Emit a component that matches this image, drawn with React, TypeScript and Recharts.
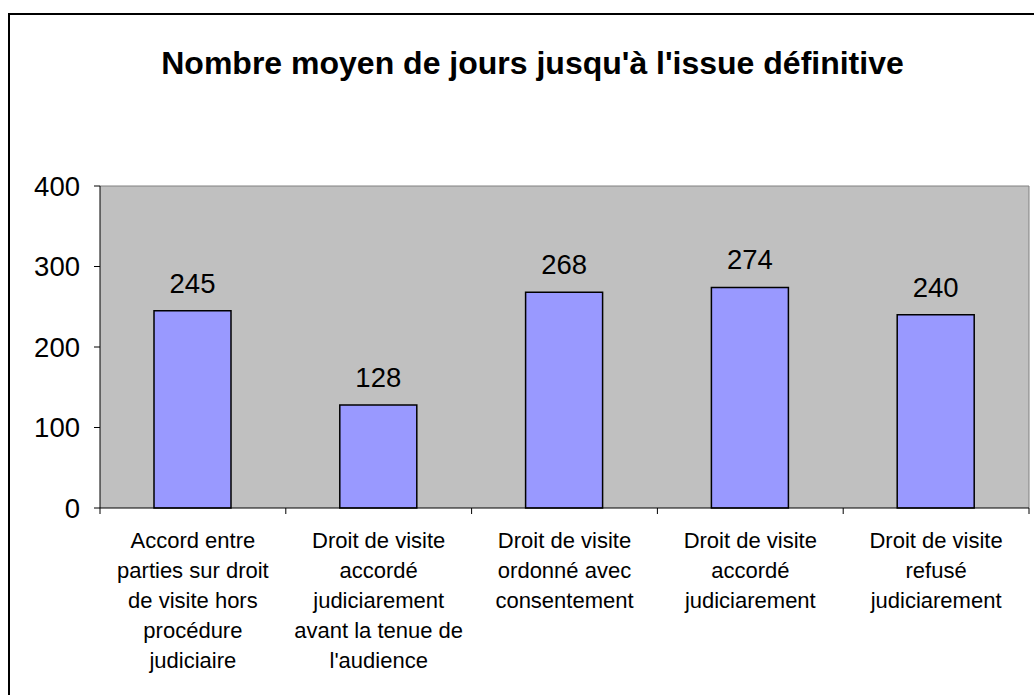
import React from "react";
import { BarChart, Bar, XAxis, YAxis, CartesianGrid, LabelList } from "recharts";

const titleText = "Nombre moyen de jours jusqu'à l'issue définitive";
const categoryLines: string[][] = [
  ["Accord entre", "parties sur droit", "de visite hors", "procédure", "judiciaire"],
  ["Droit de visite", "accordé", "judiciarement", "avant la tenue de", "l'audience"],
  ["Droit de visite", "ordonné avec", "consentement"],
  ["Droit de visite", "accordé", "judiciarement"],
  ["Droit de visite", "refusé", "judiciarement"],
];
const categories = categoryLines.map((l) => l.join(" "));
const values = [245, 128, 268, 274, 240];
const yTicks = [0, 100, 200, 300, 400];

const data = categories.map((c, i) => ({ name: c, value: values[i] }));

const FONT = "'Liberation Sans', Arial, sans-serif";

const CategoryTick = (props: any) => {
  const { x, y, payload, index, width, visibleTicksCount } = props;
  const count = visibleTicksCount || categories.length;
  const half = payload && payload.offset ? payload.offset : width / count / 2;
  const lines = categoryLines[index] || [String(payload.value)];
  return (
    <g>
      <line x1={x - half} y1={y} x2={x - half} y2={y + 6} stroke="#000" strokeWidth={1} />
      {index === count - 1 && (
        <line x1={x + half} y1={y} x2={x + half} y2={y + 6} stroke="#000" strokeWidth={1} />
      )}
      <text x={x} y={y + 39.7} textAnchor="middle" fontSize={22} fontFamily={FONT} fill="#000">
        {lines.map((ln, i) => (
          <tspan key={i} x={x} dy={i === 0 ? 0 : 30}>
            {ln}
          </tspan>
        ))}
      </text>
    </g>
  );
};

export default function App() {
  return (
    <div
      style={{
        position: "fixed",
        left: 0,
        top: 0,
        width: 1034,
        height: 695,
        background: "#fff",
        overflow: "hidden",
        fontFamily: FONT,
      }}
    >
      <div
        style={{
          position: "absolute",
          left: 8,
          top: 13,
          width: 1200,
          height: 900,
          border: "2px solid #000",
          boxSizing: "border-box",
        }}
      />
      <div
        style={{
          position: "absolute",
          left: 8,
          top: 47,
          width: 1049,
          textAlign: "center",
          fontSize: 32,
          fontWeight: "bold",
          lineHeight: 1,
          whiteSpace: "nowrap",
          color: "#000",
        }}
      >
        {titleText}
      </div>
      <div style={{ position: "absolute", left: 0, top: 0 }}>
        <BarChart
          width={1034}
          height={695}
          data={data}
          margin={{ top: 186, right: 5, left: 0, bottom: 0 }}
        >
          <CartesianGrid
            fill="#C0C0C0"
            stroke="#808080"
            strokeWidth={1}
            horizontalCoordinatesGenerator={(p: any) => [p.offset.top]}
            verticalCoordinatesGenerator={(p: any) => [p.offset.left + p.offset.width]}
          />
          <XAxis
            dataKey="name"
            height={187}
            interval={0}
            tickSize={0}
            tickMargin={0}
            tickLine={false}
            axisLine={{ stroke: "#000", strokeWidth: 1 }}
            tick={<CategoryTick />}
          />
          <YAxis
            width={100}
            domain={[0, 400]}
            ticks={yTicks}
            interval={0}
            tickSize={6}
            tickMargin={14}
            axisLine={{ stroke: "#000", strokeWidth: 1 }}
            tickLine={{ stroke: "#000", strokeWidth: 1 }}
            tick={{ fontSize: 27.5, fill: "#000", fontFamily: FONT }}
          />
          <Bar
            dataKey="value"
            fill="#9999FF"
            stroke="#000"
            strokeWidth={1.5}
            barSize={77}
            isAnimationActive={false}
          >
            <LabelList
              dataKey="value"
              position="top"
              offset={18}
              fill="#000"
              fontSize={27.5}
              fontFamily={FONT}
            />
          </Bar>
        </BarChart>
      </div>
    </div>
  );
}
